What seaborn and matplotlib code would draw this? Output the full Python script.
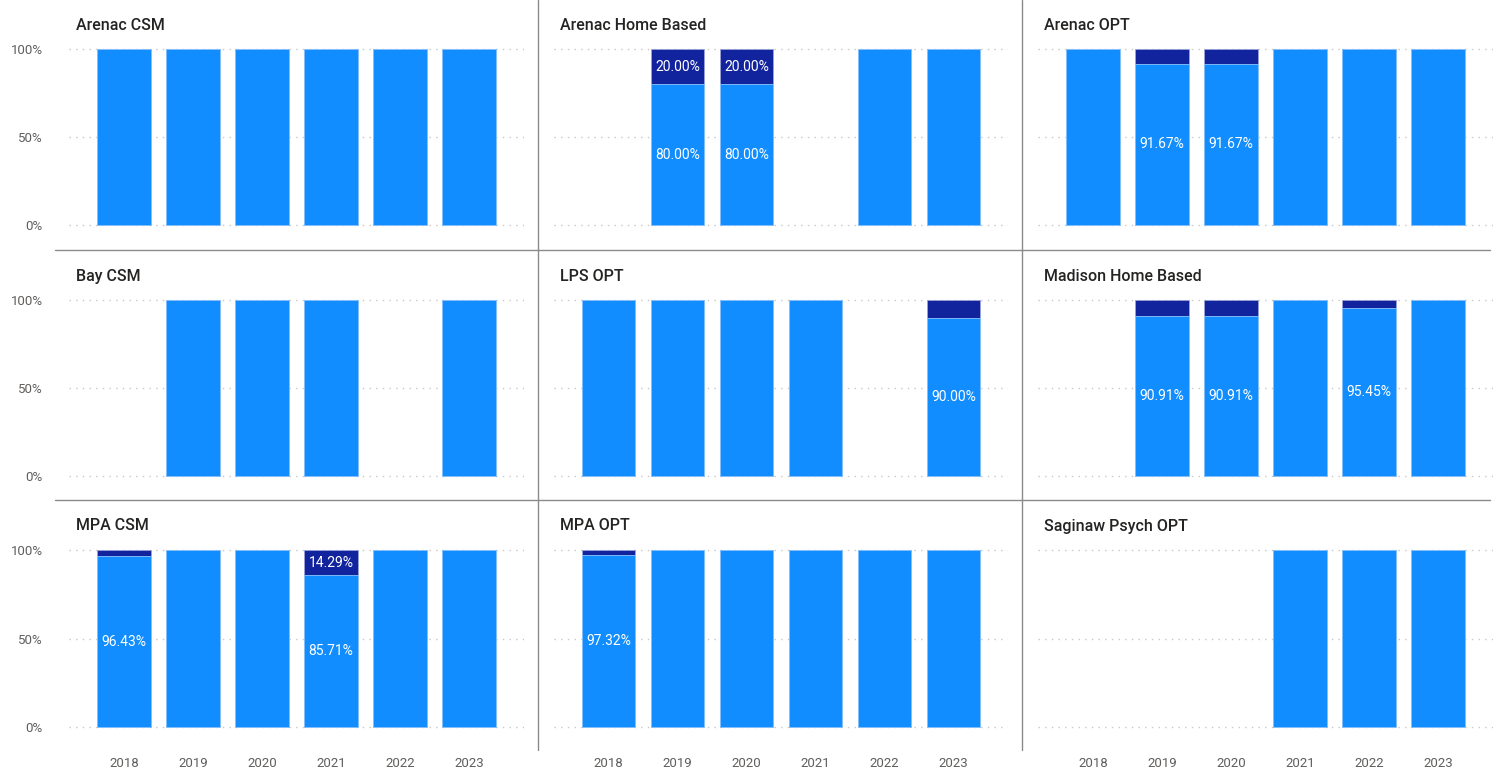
import matplotlib
matplotlib.use("Agg")
import matplotlib.pyplot as plt
from matplotlib.lines import Line2D
import seaborn as sns
import pandas as pd

# ---------------- data ----------------
years = ["2018", "2019", "2020", "2021", "2022", "2023"]
panel_titles = ["Arenac CSM", "Arenac Home Based", "Arenac OPT",
                "Bay CSM", "LPS OPT", "Madison Home Based",
                "MPA CSM", "MPA OPT", "Saginaw Psych OPT"]

# share of the light-blue series per year (None = no bar)
arenac_csm = [100, 100, 100, 100, 100, 100]
arenac_home_based = [None, 80.00, 80.00, None, 100, 100]
arenac_opt = [100, 91.67, 91.67, 100, 100, 100]
bay_csm = [None, 100, 100, 100, None, 100]
lps_opt = [100, 100, 100, 100, None, 90.00]
madison_home_based = [None, 90.91, 90.91, 100, 95.45, 100]
mpa_csm = [96.43, 100, 100, 85.71, 100, 100]
mpa_opt = [97.32, 100, 100, 100, 100, 100]
saginaw_psych_opt = [None, None, None, 100, 100, 100]

# share of the dark-navy series per year
arenac_csm_dark = [0, 0, 0, 0, 0, 0]
arenac_home_based_dark = [None, 20.00, 20.00, None, 0, 0]
arenac_opt_dark = [0, 8.33, 8.33, 0, 0, 0]
bay_csm_dark = [None, 0, 0, 0, None, 0]
lps_opt_dark = [0, 0, 0, 0, None, 10.00]
madison_home_based_dark = [None, 9.09, 9.09, 0, 4.55, 0]
mpa_csm_dark = [3.57, 0, 0, 14.29, 0, 0]
mpa_opt_dark = [2.68, 0, 0, 0, 0, 0]
saginaw_psych_opt_dark = [None, None, None, 0, 0, 0]

light_series = [arenac_csm, arenac_home_based, arenac_opt, bay_csm, lps_opt,
                madison_home_based, mpa_csm, mpa_opt, saginaw_psych_opt]
dark_series = [arenac_csm_dark, arenac_home_based_dark, arenac_opt_dark,
               bay_csm_dark, lps_opt_dark, madison_home_based_dark,
               mpa_csm_dark, mpa_opt_dark, saginaw_psych_opt_dark]

y_ticks = [0, 50, 100]
y_tick_labels = ["0%", "50%", "100%"]

# ---------------- style ----------------
LIGHT = "#118DFF"
DARK = "#12239E"
EDGE = "#8EC8FF"
GRID = "#C8C8C8"
TICK = "#605E5C"
TITLE = "#252423"

sns.set_theme(style="white")
plt.rcParams['font.family'] = ['Roboto', 'DejaVu Sans']

W, H = 1496, 775
fig = plt.figure(figsize=(W / 100, H / 100), dpi=100)
fig.patch.set_facecolor("white")

cols_x = [(69, 524), (553.5, 1008.5), (1038, 1493)]
rows_y = [(49, 225), (300, 476), (550, 727)]
title_x = [76, 560, 1044]
title_y = [25, 276, 526]
PAD = 6  # px of extra room above/below the 0..100 range
XLIM = (-0.797, 5.797)


def ax_at(x0, x1, y0, y1):
    return fig.add_axes([x0 / W, 1 - y1 / H, (x1 - x0) / W, (y1 - y0) / H])


for k, title in enumerate(panel_titles):
    r, c = divmod(k, 3)
    x0, x1 = cols_x[c]
    y0, y1 = rows_y[r]
    ax = ax_at(x0, x1, y0 - PAD, y1 + PAD)
    ax.set_facecolor("none")

    light = light_series[k]
    dark = dark_series[k]
    rows = [(yr, l, l + d) for yr, l, d in zip(years, light, dark) if l is not None]
    df = pd.DataFrame(rows, columns=["year", "light", "total"])

    for yv in y_ticks:
        ax.axhline(yv, color=GRID, lw=1.0, ls=(0, (1, 3.8)), zorder=0)

    sns.barplot(data=df, x="year", y="total", order=years, color=DARK,
                saturation=1, width=0.77, errorbar=None, ax=ax,
                edgecolor="#9AA3D9", linewidth=0.6, zorder=2)
    sns.barplot(data=df, x="year", y="light", order=years, color=LIGHT,
                saturation=1, width=0.77, errorbar=None, ax=ax,
                edgecolor=EDGE, linewidth=0.6, zorder=3)

    for i, (l, d) in enumerate(zip(light, dark)):
        if l is None:
            continue
        if l < 100:
            ax.text(i, l / 2, f"{l:.2f}%", ha="center", va="center",
                    color="white", fontsize=10, zorder=5)
        if d is not None and d >= 12:
            ax.text(i, l + d / 2, f"{d:.2f}%", ha="center", va="center",
                    color="white", fontsize=10, zorder=5)

    span = y1 - y0
    ext = PAD * 100 / span
    ax.set_ylim(-ext, 100 + ext)
    ax.set_xlim(*XLIM)
    for s in ax.spines.values():
        s.set_visible(False)
    ax.set_xlabel("")
    ax.set_ylabel("")

    ax.set_yticks(y_ticks)
    if c == 0:
        ax.set_yticklabels(y_tick_labels)
        ax.tick_params(axis="y", length=0, pad=19, labelsize=9.5, labelcolor=TICK)
    else:
        ax.set_yticklabels([])
        ax.tick_params(axis="y", length=0)
    if r == 2:
        ax.tick_params(axis="x", length=0, pad=17, labelsize=9.5, labelcolor=TICK)
    else:
        ax.set_xticklabels([])
        ax.tick_params(axis="x", length=0)
    ax.grid(False)

    fig.text(title_x[c] / W, 1 - title_y[r] / H, title, ha="left", va="center",
             fontsize=11.5, fontweight="medium", color=TITLE)

# panel separators
SEP = "#8A8A8A"
for xv in (538, 1022):
    fig.add_artist(Line2D([xv / W, xv / W], [1, 1 - 750 / H],
                          transform=fig.transFigure, color=SEP, lw=1))
for yv in (250, 500):
    fig.add_artist(Line2D([55 / W, 1490 / W], [1 - yv / H, 1 - yv / H],
                          transform=fig.transFigure, color=SEP, lw=1))

fig.savefig("out.png", dpi=100, facecolor="white")
